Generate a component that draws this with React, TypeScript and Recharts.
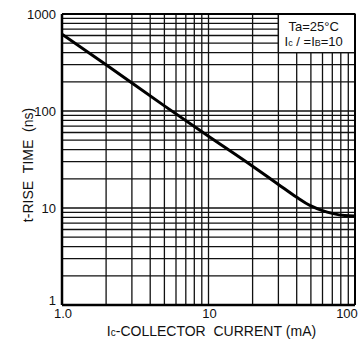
import React from 'react';
import {
  LineChart, Line, XAxis, YAxis, CartesianGrid, ReferenceArea, ReferenceLine, Label,
} from 'recharts';

const currents = [1, 2, 5, 10, 20, 30, 40, 50, 60, 70, 85, 100];
const riseTimes = [620, 300, 113, 55, 27, 17.5, 12.9, 10.5, 9.4, 8.8, 8.35, 8.25];

const xTicks = [1, 2, 3, 4, 5, 6, 7, 8, 9, 10, 20, 30, 40, 50, 60, 70, 80, 90, 100];
const yTicks = [1, 2, 3, 4, 5, 6, 7, 8, 9, 10, 20, 30, 40, 50, 60, 70, 80, 90, 100,
  200, 300, 400, 500, 600, 700, 800, 900, 1000];
const xLabels: Record<number, string> = { 1: '1.0', 10: '10', 100: '100' };
const yLabels: Record<number, string> = { 1: '1', 10: '10', 100: '100', 1000: '1000' };

const data = currents.map((c, i) => ({ ic: c, tr: riseTimes[i] }));

const FONT = '"Liberation Sans", Arial, sans-serif';
const INK = '#111';
const SP = '\u00A0';

const XTick = (props: any) => {
  const v = props.payload.value;
  const t = xLabels[v];
  if (!t) return null;
  const dx = v === 100 ? -8 : 1;
  return (
    <text x={props.x + dx} y={318} textAnchor="middle" fontSize={13} fontFamily={FONT} fill={INK}>
      {t}
    </text>
  );
};

const YTick = (props: any) => {
  const v = props.payload.value;
  const t = yLabels[v];
  if (!t) return null;
  const dy = v === 1 ? -5 : 0;
  return (
    <text x={56} y={props.y + dy} textAnchor="end" dominantBaseline="central" fontSize={13} fontFamily={FONT} fill={INK}>
      {t}
    </text>
  );
};

const BoxText = (props: any) => {
  const vb = props.viewBox || { x: 278, y: 14, width: 77, height: 38 };
  const cx = vb.x + vb.width / 2 - 3;
  return (
    <g fontFamily={FONT} fill={INK} fontSize={13}>
      <text x={cx} y={vb.y + 17} textAnchor="middle">Ta=25°C</text>
      <text x={cx} y={vb.y + 32} textAnchor="middle">
        I<tspan fontSize={9}>c</tspan>{SP}/{SP}=I<tspan fontSize={9}>B</tspan>=10
      </text>
    </g>
  );
};

const XTitle = (props: any) => {
  const vb = props.viewBox || { x: 62, y: 305, width: 293 };
  return (
    <text x={vb.x + vb.width / 2 + 3} y={336} textAnchor="middle" fontSize={14} fontFamily={FONT} fill={INK}>
      I<tspan fontSize={10}>c</tspan>{`-COLLECTOR${SP}${SP}CURRENT${SP}(mA)`}
    </text>
  );
};

const YTitle = () => {
  const cx = 28;
  const cy = 165;
  return (
    <text x={cx} y={cy} transform={`rotate(-90, ${cx}, ${cy})`} textAnchor="middle" dominantBaseline="central"
      fontSize={14} fontFamily={FONT} fill={INK}>
      {`t-RISE${SP}${SP}TIME${SP}${SP}(ns)`}
    </text>
  );
};

export default function App() {
  return (
    <div style={{ position: 'absolute', left: 0, top: 0, width: 358, height: 343, background: '#fff' }}>
      <LineChart width={358} height={343} data={data} margin={{ top: 14, right: 3, bottom: 0, left: 0 }}>
        <CartesianGrid stroke={INK} strokeWidth={1.3} />
        <XAxis
          dataKey="ic"
          type="number"
          scale="log"
          domain={[1, 100]}
          ticks={xTicks}
          interval={0}
          allowDataOverflow
          height={38}
          tickLine={false}
          axisLine={{ stroke: '#000', strokeWidth: 2.5 }}
          tick={<XTick />}
        >
          <Label content={<XTitle />} />
        </XAxis>
        <YAxis
          type="number"
          scale="log"
          domain={[1, 1000]}
          ticks={yTicks}
          interval={0}
          allowDataOverflow
          width={62}
          tickLine={false}
          axisLine={{ stroke: '#000', strokeWidth: 2.5 }}
          tick={<YTick />}
        >
          <Label content={<YTitle />} />
        </YAxis>
        <ReferenceLine y={1000} stroke="#000" strokeWidth={2} />
        <ReferenceLine x={100} stroke="#000" strokeWidth={2} />
        <ReferenceArea x1={30} x2={100} y1={400} y2={1000} fill="#fff" fillOpacity={1} stroke={INK} strokeWidth={1.3}
          label={<BoxText />} />
        <Line
          dataKey="tr"
          type="monotone"
          stroke="#000"
          strokeWidth={3}
          dot={false}
          isAnimationActive={false}
        />
      </LineChart>
    </div>
  );
}
